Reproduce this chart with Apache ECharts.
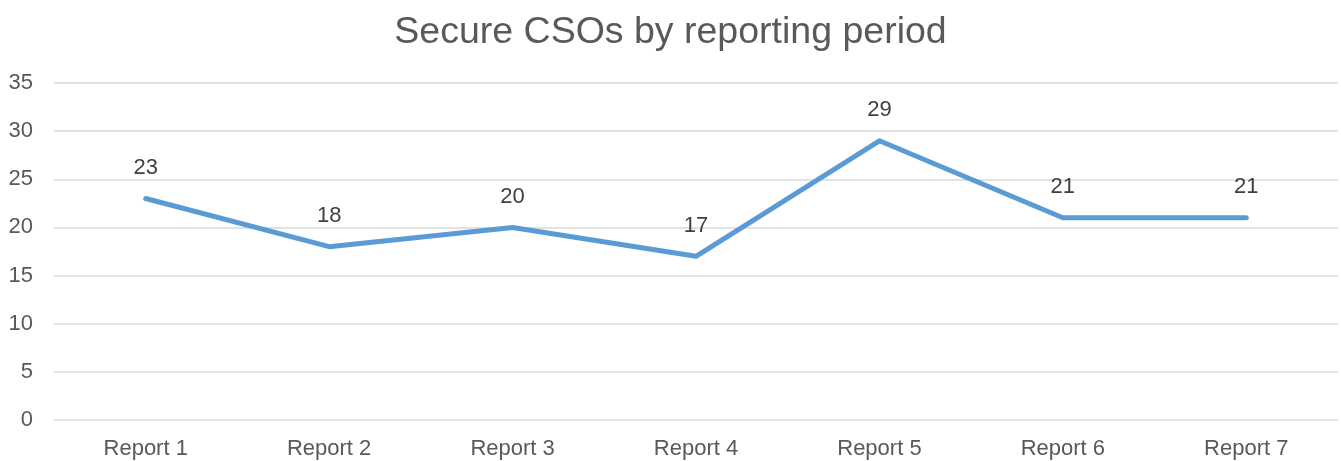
<!DOCTYPE html>
<html>
<head>
<meta charset="utf-8">
<script src="https://cdn.jsdelivr.net/npm/echarts@6/dist/echarts.min.js"></script>
<style>
  html, body { margin: 0; padding: 0; background: #fff; }
  #chart { width: 1341px; height: 461px; }
</style>
</head>
<body>
<div id="chart"></div>
<script>
var categories = ['Report 1', 'Report 2', 'Report 3', 'Report 4', 'Report 5', 'Report 6', 'Report 7'];
var values = [23, 18, 20, 17, 29, 21, 21];

var chart = echarts.init(document.getElementById('chart'));
var option = {
  animation: false,
  title: {
    text: 'Secure CSOs by reporting period',
    left: 'center',
    top: 9,
    textStyle: {
      fontFamily: 'Liberation Sans, Arial',
      fontSize: 37.5,
      fontWeight: 'normal',
      color: '#595959'
    }
  },
  grid: { left: 54, right: 3, top: 83, bottom: 41 },
  xAxis: {
    type: 'category',
    data: categories,
    boundaryGap: true,
    axisLine: { show: false },
    axisTick: { show: false },
    axisLabel: {
      color: '#595959',
      fontSize: 22,
      fontFamily: 'Liberation Sans, Arial',
      margin: 18
    }
  },
  yAxis: {
    type: 'value',
    min: 0,
    max: 35,
    interval: 5,
    axisLine: { show: false },
    axisTick: { show: false },
    axisLabel: {
      color: '#595959',
      fontSize: 22,
      fontFamily: 'Liberation Sans, Arial',
      margin: 21
    },
    splitLine: { lineStyle: { color: '#d9d9d9', width: 1.5 } }
  },
  series: [{
    type: 'line',
    data: values,
    symbol: 'circle',
    symbolSize: 1,
    showSymbol: true,
    itemStyle: { color: 'rgba(0,0,0,0)', borderWidth: 0 },
    lineStyle: { color: '#5b9bd5', width: 5, cap: 'round', join: 'round' },
    label: {
      show: true,
      position: 'top',
      distance: 19,
      color: '#404040',
      fontSize: 22,
      fontFamily: 'Liberation Sans, Arial'
    }
  }]
};
chart.setOption(option);
</script>
</body>
</html>
